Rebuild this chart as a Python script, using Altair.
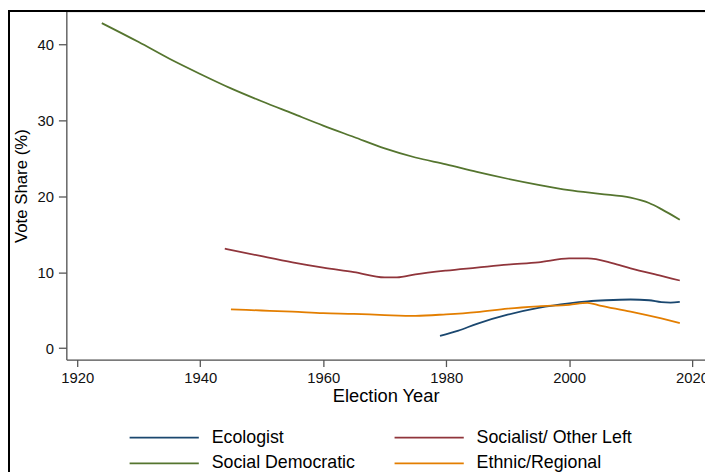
import altair as alt
import pandas as pd

# ---- data ----
# legend order (filled column by column): Ecologist, Social Democratic | Socialist/ Other Left, Ethnic/Regional
series_names = ["Ecologist", "Social Democratic", "Socialist/ Other Left", "Ethnic/Regional"]
series_colors = ["#1a476f", "#55752f", "#90353b", "#e37e00"]

eco_years = [1979, 1982, 1985, 1990, 1995, 2000, 2003, 2006, 2010, 2013, 2015, 2016.5, 2018]
eco_vals = [1.6, 2.3, 3.2, 4.4, 5.3, 5.9, 6.15, 6.3, 6.4, 6.3, 6.05, 6.0, 6.1]

sd_years = [1924, 1930, 1935, 1940, 1945, 1950, 1955, 1960, 1965, 1970, 1975, 1980, 1985, 1990, 1995, 2000, 2005, 2010, 2013, 2015, 2018]
sd_vals = [42.8, 40.3, 38.1, 36.1, 34.2, 32.5, 30.9, 29.3, 27.8, 26.3, 25.1, 24.2, 23.2, 22.3, 21.5, 20.8, 20.3, 19.8, 19.1, 18.3, 16.9]

soc_years = [1944, 1950, 1955, 1960, 1965, 1970, 1972, 1975, 1980, 1985, 1990, 1995, 2000, 2003, 2007, 2010, 2015, 2018]
soc_vals = [13.1, 12.1, 11.3, 10.6, 10.0, 9.3, 9.3, 9.7, 10.2, 10.6, 11.0, 11.3, 11.8, 11.8, 11.2, 10.5, 9.5, 8.9]

eth_years = [1945, 1950, 1955, 1960, 1965, 1970, 1975, 1980, 1985, 1990, 1995, 2000, 2003, 2005, 2010, 2015, 2018]
eth_vals = [5.1, 4.95, 4.8, 4.6, 4.5, 4.35, 4.25, 4.45, 4.75, 5.2, 5.5, 5.7, 5.95, 5.6, 4.8, 3.9, 3.3]

x_ticks = [1920, 1940, 1960, 1980, 2000, 2020]
y_ticks = [0, 10, 20, 30, 40]

rows = []
for name, ys, vs in zip(series_names,
                        [eco_years, sd_years, soc_years, eth_years],
                        [eco_vals, sd_vals, soc_vals, eth_vals]):
    for y, v in zip(ys, vs):
        rows.append({"series": name, "year": y, "share": v})
df = pd.DataFrame(rows)

FONT = "Liberation Sans"
W, H = 646, 352

lines = alt.Chart(df).mark_line(strokeWidth=1.8, interpolate="monotone").encode(
    x=alt.X("year:Q",
            scale=alt.Scale(domain=[1918.23, 2022.1], nice=False, zero=False),
            axis=alt.Axis(values=x_ticks, format="d", title="Election Year",
                          titleFontSize=18.5, titleFontWeight="normal", titleFont=FONT,
                          titleColor="black", titleY=42, titleBaseline="alphabetic",
                          labelFontSize=15, labelFont=FONT, labelColor="#111111",
                          labelPadding=4, tickSize=7, tickColor="#555555",
                          domainColor="#555555", domainWidth=1.3, tickWidth=1.3,
                          grid=False, labelFlush=False, labelOverlap=False)),
    y=alt.Y("share:Q",
            scale=alt.Scale(domain=[-1.52, 44.31], nice=False, zero=False),
            axis=alt.Axis(values=y_ticks, title="Vote Share (%)",
                          titleFontSize=17, titleFontWeight="normal", titleFont=FONT,
                          titleColor="black", titleX=-40, titleY=H / 2,
                          titleAngle=-90, titleBaseline="alphabetic", titleAlign="center",
                          labelFontSize=15, labelFont=FONT, labelColor="#111111",
                          labelPadding=5, tickSize=8, tickColor="#555555",
                          domainColor="#555555", domainWidth=1.3, tickWidth=1.3,
                          grid=False, labelFlush=False, labelOverlap=False)),
    color=alt.Color("series:N",
                    scale=alt.Scale(domain=series_names, range=series_colors),
                    legend=alt.Legend(orient="none", legendX=63, legendY=421,
                                      columns=2, direction="vertical", title=None,
                                      symbolType="stroke",
                                      symbolSize=4900, symbolStrokeWidth=1.8,
                                      labelFontSize=18, labelFont=FONT, labelColor="black",
                                      labelOffset=12, columnPadding=38, rowPadding=6,
                                      clipHeight=20, padding=0, symbolOpacity=1)),
)

frame_top = alt.Chart(df).mark_rule(color="black", strokeWidth=1.5).encode(
    x=alt.value(-58.5), x2=alt.value(W + 10), y=alt.value(-0.25))
frame_left = alt.Chart(df).mark_rule(color="black", strokeWidth=1.5).encode(
    x=alt.value(-58.5), y=alt.value(-0.25), y2=alt.value(H + 120))

chart = alt.layer(lines, frame_top, frame_left).properties(
    width=W, height=H,
    autosize=alt.AutoSizeParams(type="none"),
    padding={"left": 59, "top": 1, "right": 0, "bottom": 111},
).configure_view(stroke=None).configure(background="white")

chart.save("out.html", embed_options={"renderer": "svg", "actions": False})
